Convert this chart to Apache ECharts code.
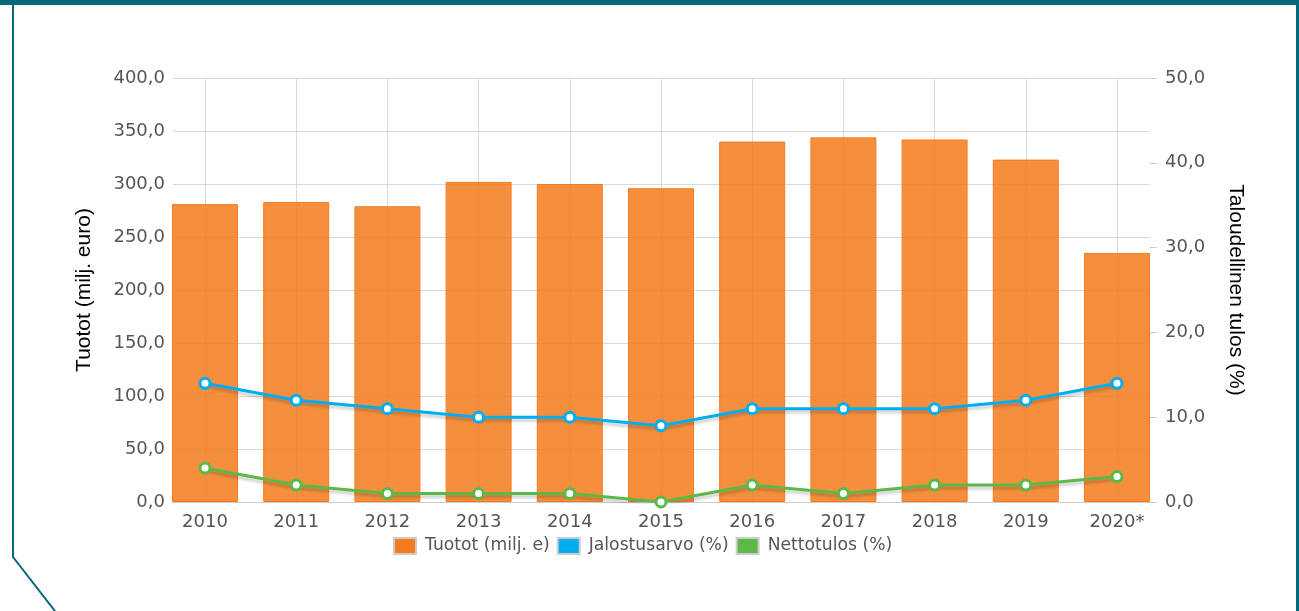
<!DOCTYPE html>
<html>
<head>
<meta charset="utf-8">
<title>Tuotot ja taloudellinen tulos</title>
<script src="https://cdn.jsdelivr.net/npm/echarts@6/dist/echarts.min.js"></script>
<style>
  html, body { margin: 0; padding: 0; background: #fff; }
  #chart { width: 1299px; height: 611px; }
</style>
</head>
<body>
<div id="chart"></div>
<script>
// data
const years = ['2010', '2011', '2012', '2013', '2014', '2015', '2016', '2017', '2018', '2019', '2020*'];
const tuotot = [281, 283, 279, 302, 300, 296, 340, 344, 342, 323, 235];        // milj. e
const jalostusarvo = [14, 12, 11, 10, 10, 9, 11, 11, 11, 12, 14];            // %
const nettotulos = [4, 2, 1, 1, 1, 0, 2, 1, 2, 2, 3];                        // %

const orange = '#F37D1E';
const blue = '#00AEEF';
const green = '#5DB947';
const teal = '#006878';
const tickFont = 'DejaVu Sans, Verdana, sans-serif';

const fmt = v => v.toFixed(1).replace('.', ',');

const chart = echarts.init(document.getElementById('chart'), null, { renderer: 'canvas' });

const lineSeries = (name, values, color) => ({
  name: name,
  type: 'line',
  xAxisIndex: 1,
  yAxisIndex: 3,
  data: values,
  z: 5,
  symbol: 'circle',
  symbolSize: 10,
  lineStyle: {
    color: color,
    width: 3,
    shadowColor: 'rgba(0,0,0,0.2)',
    shadowBlur: 3,
    shadowOffsetY: 3
  },
  itemStyle: { color: '#fff', borderColor: color, borderWidth: 3 },
  emphasis: { disabled: true }
});

const option = {
  animation: false,
  graphic: [
    // frame of the page
    { type: 'rect', shape: { x: 0, y: 0, width: 1299, height: 5 }, style: { fill: teal } },
    { type: 'rect', shape: { x: 1296, y: 0, width: 3, height: 611 }, style: { fill: teal } },
    {
      type: 'polyline',
      shape: { points: [[13, 5], [13, 557], [55, 611]] },
      style: { stroke: teal, lineWidth: 2, fill: null }
    }
  ],
  grid: [
    // grid 0: horizontal gridlines and both value axes
    { left: 173, right: 149, top: 78, bottom: 109 },
    // grid 1: the data, categories at gridline positions
    { left: 205, right: 182, top: 78, bottom: 109 }
  ],
  legend: {
    left: 393,
    top: 537,
    padding: 0,
    icon: 'rect',
    itemWidth: 22,
    itemHeight: 16,
    itemGap: 7,
    itemStyle: { borderColor: '#ccc', borderWidth: 2 },
    textStyle: { color: '#555', fontSize: 17.2, fontFamily: tickFont, padding: [2, 0, 0, 4] },
    data: [
      { name: 'Tuotot (milj. e)', itemStyle: { color: orange } },
      { name: 'Jalostusarvo (%)', itemStyle: { color: blue } },
      { name: 'Nettotulos (%)', itemStyle: { color: green } }
    ]
  },
  xAxis: [
    {
      gridIndex: 0,
      type: 'value',
      min: 0,
      max: 1,
      axisLine: { show: true, lineStyle: { color: '#ccc', width: 1 } },
      axisTick: { show: false },
      axisLabel: { show: false },
      splitLine: { show: false }
    },
    {
      gridIndex: 1,
      type: 'category',
      data: years,
      boundaryGap: false,
      axisLine: { show: false },
      axisTick: { show: false },
      axisLabel: { color: '#555', fontSize: 18, fontFamily: tickFont, margin: 11 },
      splitLine: { show: true, lineStyle: { color: '#d9d9d9', width: 1 } }
    }
  ],
  yAxis: [
    {
      gridIndex: 0,
      type: 'value',
      position: 'left',
      min: 0,
      max: 400,
      interval: 50,
      name: 'Tuotot (milj. euro)',
      nameLocation: 'middle',
      nameGap: 78,
      nameRotate: 90,
      nameTextStyle: { color: '#000', fontSize: 21, fontFamily: 'Liberation Sans, Arial, sans-serif' },
      axisLine: { show: false },
      axisTick: { show: false },
      axisLabel: { color: '#555', fontSize: 18, fontFamily: tickFont, margin: 8, formatter: fmt },
      splitLine: { lineStyle: { color: '#d9d9d9', width: 1 } }
    },
    {
      gridIndex: 0,
      type: 'value',
      position: 'right',
      min: 0,
      max: 50,
      interval: 10,
      name: 'Taloudellinen tulos (%)',
      nameLocation: 'middle',
      nameGap: 75,
      nameRotate: -90,
      nameTextStyle: { color: '#000', fontSize: 21, fontFamily: 'Liberation Sans, Arial, sans-serif' },
      axisLine: { show: false },
      axisTick: { show: true, length: 7, lineStyle: { color: '#ccc' } },
      axisLabel: { color: '#555', fontSize: 18, fontFamily: tickFont, margin: 15, formatter: fmt },
      splitLine: { show: false }
    },
    { gridIndex: 1, type: 'value', min: 0, max: 400, show: false },
    { gridIndex: 1, type: 'value', min: 0, max: 50, show: false }
  ],
  series: [
    {
      name: 'Tuotot (milj. e)',
      type: 'bar',
      xAxisIndex: 1,
      yAxisIndex: 2,
      data: tuotot,
      barWidth: 66,
      clip: false,
      z: 2,
      itemStyle: { color: 'rgba(243,125,30,0.86)', borderColor: '#F47B20', borderWidth: 1 },
      emphasis: { disabled: true }
    },
    lineSeries('Jalostusarvo (%)', jalostusarvo, blue),
    lineSeries('Nettotulos (%)', nettotulos, green)
  ]
};

chart.setOption(option);
</script>
</body>
</html>
